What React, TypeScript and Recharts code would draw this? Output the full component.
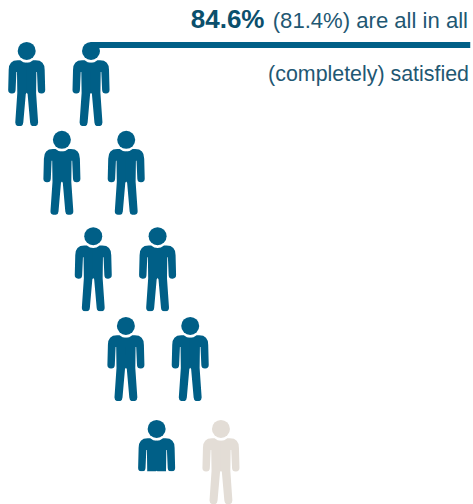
import React from 'react';
import { ScatterChart, Scatter, XAxis, YAxis, ReferenceLine } from 'recharts';

// Ten-person pictogram: each figure is one scatter point, staggered row by row
const rowLevels = [0, 0.94, 1.96, 2.91, 4];
const rowShifts = [0, 0.55, 1.04, 1.55, 2.03];
const seats = [0, 1.005];
// share of each figure's height that is shown, top down
const shownShare = [1, 1, 1, 1, 1, 1, 1, 1, 0.61, 1];
const isSatisfied = [true, true, true, true, true, true, true, true, true, false];

const headlineValue = '84.6%';
const headlinePrevious = '(81.4%) are all in all';
const headlineTail = '(completely) satisfied';

const BLUE = '#005f87';
const SAND = '#e3ddd6';

const people = rowLevels.flatMap((level, row) =>
  seats.map((seat, i) => {
    const index = row * seats.length + i;
    return {
      id: index,
      col: rowShifts[row] + seat,
      level,
      shown: shownShare[index],
      satisfied: isSatisfied[index],
    };
  }),
);

const FIGURE_HEIGHT = 84;

// left half of the body, mirrored for the right half; y runs from the top of the head.
// It runs slightly past the centre line so the two halves overlap without a seam.
const halfBody =
  'M0.6 20.8 L0 20.8 Q-3.4 20.8 -6.4 18.3 L-9 18.3 Q-18 18.3 -18 28 L-18.5 47.6 ' +
  'A3.7 3.7 0 0 0 -11.1 48 L-10.3 30 L-9.7 30 L-9.4 51 L-11.4 80 ' +
  'A3.9 3.9 0 0 0 -3.4 80.6 L-0.9 52 L0.6 50 Z';

function Person(props: any) {
  const { cx, cy, payload } = props;
  const clipId = `person-clip-${payload.id}`;
  return (
    <g transform={`translate(${cx},${cy})`} fill={payload.satisfied ? BLUE : SAND}>
      <clipPath id={clipId}>
        <rect x={-24} y={-1} width={48} height={payload.shown * FIGURE_HEIGHT + 1} />
      </clipPath>
      <g clipPath={`url(#${clipId})`}>
        <circle cx={0} cy={9} r={9} />
        <path d={halfBody} />
        <path d={halfBody} transform="scale(-1,1)" />
      </g>
    </g>
  );
}

const FONT = "'Liberation Sans', Arial, sans-serif";

export default function App() {
  return (
    <div style={{ position: 'absolute', left: 0, top: 0 }}>
      <ScatterChart width={473} height={504} margin={{ top: 0, right: 0, bottom: 0, left: 0 }}>
        <XAxis type="number" dataKey="col" hide domain={[-0.417, 6.973]} allowDataOverflow />
        <YAxis type="number" dataKey="level" hide domain={[-0.444, 4.889]} reversed allowDataOverflow />
        <ReferenceLine
          segment={[
            { x: 1, y: 0.032 },
            { x: 6.93, y: 0.032 },
          ]}
          stroke={BLUE}
          strokeWidth={6}
        />
        <Scatter data={people} shape={Person} isAnimationActive={false} />
        <text x={264.5} y={28} textAnchor="end" fontFamily={FONT} fontWeight="bold" fontSize={26} fill="#0b4f6c">
          {headlineValue}
        </text>
        <text x={468} y={28} textAnchor="end" fontFamily={FONT} fontSize={22.1} fill="#1f5873">
          {headlinePrevious}
        </text>
        <text x={469} y={81} textAnchor="end" fontFamily={FONT} fontSize={21.4} fill="#1f5873">
          {headlineTail}
        </text>
      </ScatterChart>
    </div>
  );
}
